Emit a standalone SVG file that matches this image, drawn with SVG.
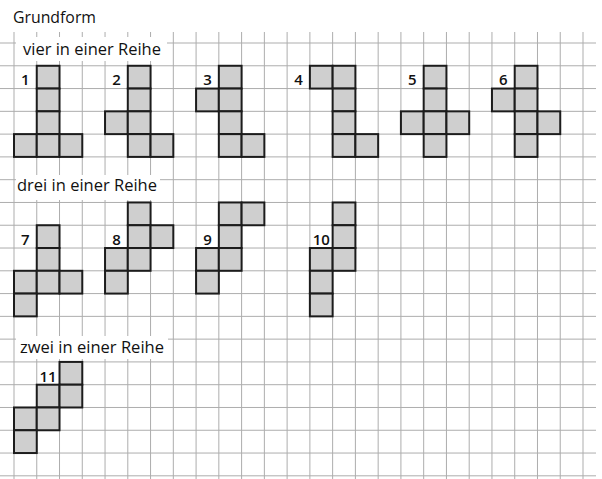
<svg xmlns="http://www.w3.org/2000/svg" xmlns:xlink="http://www.w3.org/1999/xlink" width="602" height="479" viewBox="0 0 602 479">
<style>
.grid{stroke:#adadad;stroke-width:1;fill:none}
.cell{fill:#cfcfcf;stroke:#1c1c1c;stroke-width:2}
.mask{fill:#ffffff}
.title{font-family:"Open Sans","Liberation Sans",sans-serif;font-size:17px;fill:#111111}
.num{font-family:"Open Sans","Liberation Sans",sans-serif;font-size:15px;font-weight:600;fill:#111111;text-anchor:middle}
</style>
<defs>
<rect id="c" width="22.76" height="22.78" class="cell"/>
</defs>
<rect width="602" height="479" fill="#ffffff"/>
<g id="grid" class="grid">
<path d="M14 32V479M36.76 32V479M59.52 32V479M82.28 32V479M105.04 32V479M127.8 32V479M150.56 32V479M173.32 32V479M196.08 32V479M218.84 32V479M241.6 32V479M264.36 32V479M287.12 32V479M309.88 32V479M332.64 32V479M355.4 32V479M378.16 32V479M400.92 32V479M423.68 32V479M446.44 32V479M469.2 32V479M491.96 32V479M514.72 32V479M537.48 32V479M560.24 32V479M583 32V479"/>
<path d="M0 43H596M0 65.78H596M0 88.56H596M0 111.34H596M0 134.12H596M0 156.9H596M0 179.68H596M0 202.46H596M0 225.24H596M0 248.02H596M0 270.8H596M0 293.58H596M0 316.36H596M0 339.14H596M0 361.92H596M0 384.7H596M0 407.48H596M0 430.26H596M0 453.04H596M0 475.82H596"/>
</g>
<g id="titles">
<text class="title" x="13" y="23" textLength="83" lengthAdjust="spacingAndGlyphs">Grundform</text>
<rect class="mask" x="16" y="37" width="151" height="24"/>
<text class="title" x="23" y="55" textLength="138" lengthAdjust="spacingAndGlyphs">vier in einer Reihe</text>
<rect class="mask" x="16" y="175" width="144" height="25"/>
<text class="title" x="17" y="190.5" textLength="140" lengthAdjust="spacingAndGlyphs">drei in einer Reihe</text>
<rect class="mask" x="16" y="336" width="152" height="23"/>
<text class="title" x="20" y="353" textLength="144" lengthAdjust="spacingAndGlyphs">zwei in einer Reihe</text>
</g>
<g id="shape1">
<use xlink:href="#c" x="36.76" y="65.78"/><use xlink:href="#c" x="36.76" y="88.56"/><use xlink:href="#c" x="36.76" y="111.34"/><use xlink:href="#c" x="14" y="134.12"/><use xlink:href="#c" x="36.76" y="134.12"/><use xlink:href="#c" x="59.52" y="134.12"/>
<text class="num" x="25.38" y="85">1</text>
</g>
<g id="shape2">
<use xlink:href="#c" x="127.8" y="65.78"/><use xlink:href="#c" x="127.8" y="88.56"/><use xlink:href="#c" x="105.04" y="111.34"/><use xlink:href="#c" x="127.8" y="111.34"/><use xlink:href="#c" x="127.8" y="134.12"/><use xlink:href="#c" x="150.56" y="134.12"/>
<text class="num" x="116.42" y="85">2</text>
</g>
<g id="shape3">
<use xlink:href="#c" x="218.84" y="65.78"/><use xlink:href="#c" x="196.08" y="88.56"/><use xlink:href="#c" x="218.84" y="88.56"/><use xlink:href="#c" x="218.84" y="111.34"/><use xlink:href="#c" x="218.84" y="134.12"/><use xlink:href="#c" x="241.6" y="134.12"/>
<text class="num" x="207.46" y="85">3</text>
</g>
<g id="shape4">
<use xlink:href="#c" x="309.88" y="65.78"/><use xlink:href="#c" x="332.64" y="65.78"/><use xlink:href="#c" x="332.64" y="88.56"/><use xlink:href="#c" x="332.64" y="111.34"/><use xlink:href="#c" x="332.64" y="134.12"/><use xlink:href="#c" x="355.4" y="134.12"/>
<text class="num" x="298.5" y="85">4</text>
</g>
<g id="shape5">
<use xlink:href="#c" x="423.68" y="65.78"/><use xlink:href="#c" x="423.68" y="88.56"/><use xlink:href="#c" x="400.92" y="111.34"/><use xlink:href="#c" x="423.68" y="111.34"/><use xlink:href="#c" x="446.44" y="111.34"/><use xlink:href="#c" x="423.68" y="134.12"/>
<text class="num" x="412.3" y="85">5</text>
</g>
<g id="shape6">
<use xlink:href="#c" x="514.72" y="65.78"/><use xlink:href="#c" x="491.96" y="88.56"/><use xlink:href="#c" x="514.72" y="88.56"/><use xlink:href="#c" x="514.72" y="111.34"/><use xlink:href="#c" x="537.48" y="111.34"/><use xlink:href="#c" x="514.72" y="134.12"/>
<text class="num" x="503.34" y="85">6</text>
</g>
<g id="shape7">
<use xlink:href="#c" x="36.76" y="225.24"/><use xlink:href="#c" x="36.76" y="248.02"/><use xlink:href="#c" x="14" y="270.8"/><use xlink:href="#c" x="36.76" y="270.8"/><use xlink:href="#c" x="59.52" y="270.8"/><use xlink:href="#c" x="14" y="293.58"/>
<text class="num" x="25.38" y="244.5">7</text>
</g>
<g id="shape8">
<use xlink:href="#c" x="127.8" y="202.46"/><use xlink:href="#c" x="127.8" y="225.24"/><use xlink:href="#c" x="150.56" y="225.24"/><use xlink:href="#c" x="105.04" y="248.02"/><use xlink:href="#c" x="127.8" y="248.02"/><use xlink:href="#c" x="105.04" y="270.8"/>
<text class="num" x="116.42" y="244.5">8</text>
</g>
<g id="shape9">
<use xlink:href="#c" x="218.84" y="202.46"/><use xlink:href="#c" x="241.6" y="202.46"/><use xlink:href="#c" x="218.84" y="225.24"/><use xlink:href="#c" x="196.08" y="248.02"/><use xlink:href="#c" x="218.84" y="248.02"/><use xlink:href="#c" x="196.08" y="270.8"/>
<text class="num" x="207.46" y="244.5">9</text>
</g>
<g id="shape10">
<use xlink:href="#c" x="332.64" y="202.46"/><use xlink:href="#c" x="332.64" y="225.24"/><use xlink:href="#c" x="309.88" y="248.02"/><use xlink:href="#c" x="332.64" y="248.02"/><use xlink:href="#c" x="309.88" y="270.8"/><use xlink:href="#c" x="309.88" y="293.58"/>
<text class="num" x="321.26" y="244.5">10</text>
</g>
<g id="shape11">
<use xlink:href="#c" x="59.52" y="361.92"/><use xlink:href="#c" x="36.76" y="384.7"/><use xlink:href="#c" x="59.52" y="384.7"/><use xlink:href="#c" x="14" y="407.48"/><use xlink:href="#c" x="36.76" y="407.48"/><use xlink:href="#c" x="14" y="430.26"/>
<text class="num" x="48.14" y="381.5">11</text>
</g>
<g id="connectors"/>
</svg>
